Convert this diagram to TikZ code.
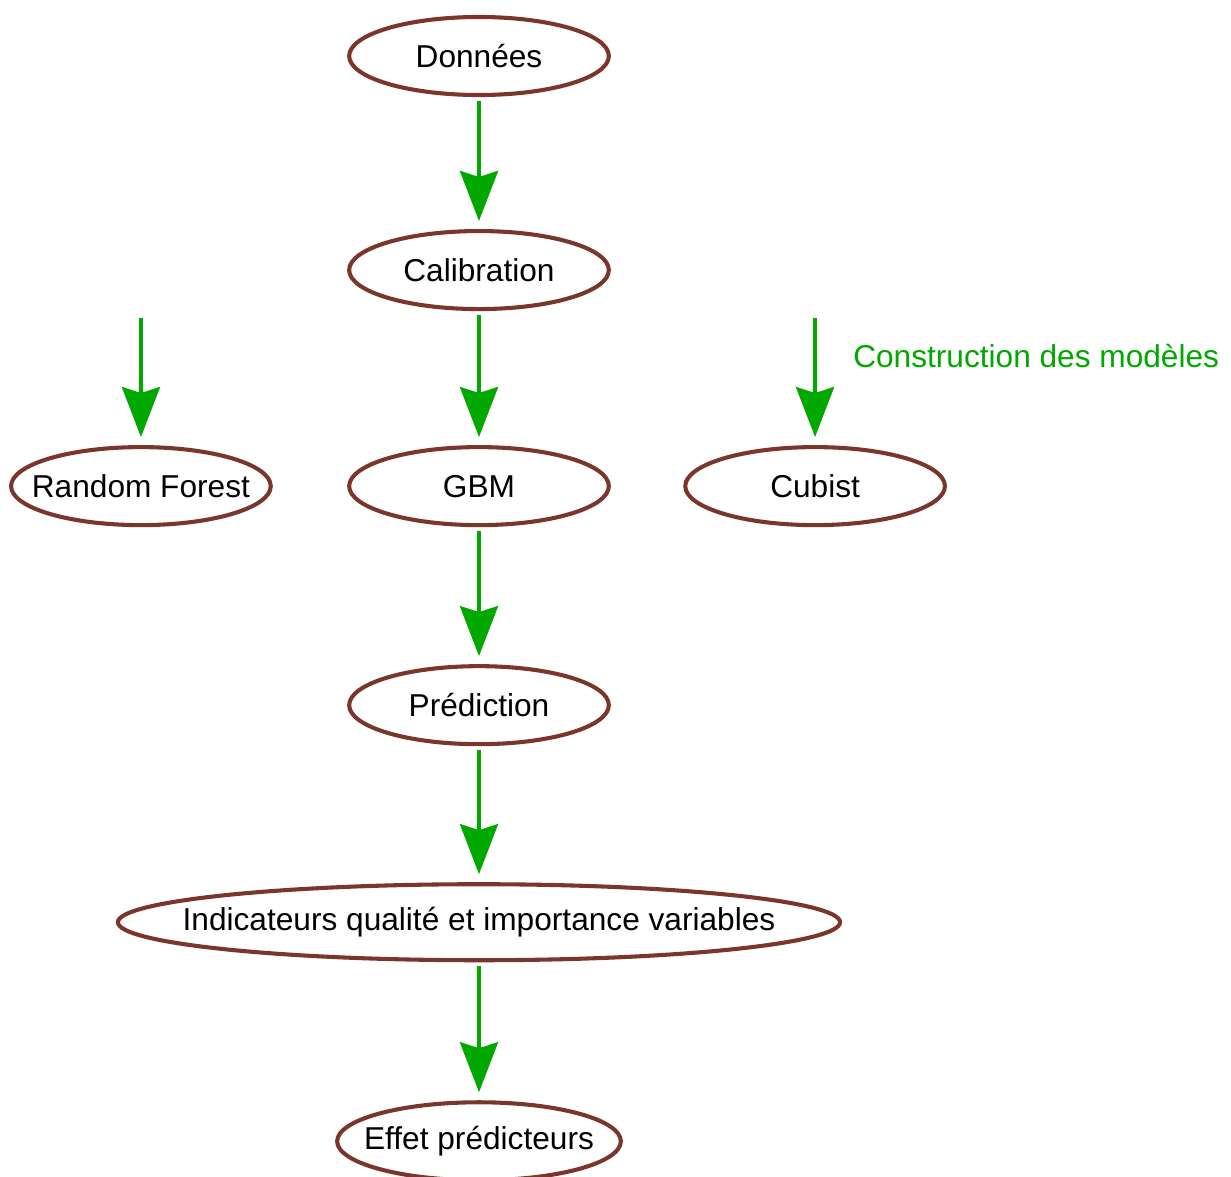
\documentclass[tikz,border=0pt]{standalone}
\usepackage{fontspec}
\setmainfont{Liberation Sans}
\usepackage{tikz}
\usetikzlibrary{arrows.meta,positioning,shapes.geometric}
\definecolor{ovalbrown}{RGB}{122,54,43}
\definecolor{flowgreen}{RGB}{0,168,0}
\begin{document}
\begin{tikzpicture}[
  x=0.025cm,y=-0.025cm,
  font=\fontsize{22.5}{27}\selectfont,
  oval/.style={ellipse,draw=ovalbrown,line width=2.9pt,inner xsep=-2cm,inner ysep=0pt,
    minimum width=6.49cm,minimum height=1.95cm,align=center},
  arr/.style={-{Stealth[length=1.25cm,width=0.95cm,inset=0.15cm]},
    draw=flowgreen,line width=2.8pt,shorten <=0.1cm,shorten >=0.2cm},
  node distance=5.4cm,on grid
]
\useasboundingbox (0,0) rectangle (1231,1177);
\node[oval] (D) at (479,56) {Données};
\node[oval,below=5.35cm of D] (C) {Calibration};
\node[oval,below=5.4cm of C] (G) {GBM};
\node[oval,left=8.45cm of G] (R) {Random Forest};
\node[oval,right=8.4cm of G] (Cu) {Cubist};
\node[oval,below=5.475cm of G] (P) {Prédiction};
\node[oval,below=5.425cm of P,minimum width=18.05cm,minimum height=1.9cm] (I)
  {Indicateurs qualité et importance variables};
\node[oval,below=5.475cm of I,minimum width=7.09cm] (E) {Effet prédicteurs};
\coordinate (Rs) at (141,318);
\coordinate (Cus) at (815,318);
\node[anchor=base west,inner sep=0pt,text=flowgreen] (lbl) at (853,367)
  {Construction des modèles};
\draw[arr] (D) -- (C);
\draw[arr] (C) -- (G);
\draw[arr,shorten <=0pt] (Rs) -- (R);
\draw[arr,shorten <=0pt] (Cus) -- (Cu);
\draw[arr] (G) -- (P);
\draw[arr] (P) -- (I);
\draw[arr] (I) -- (E);
\end{tikzpicture}
\end{document}
